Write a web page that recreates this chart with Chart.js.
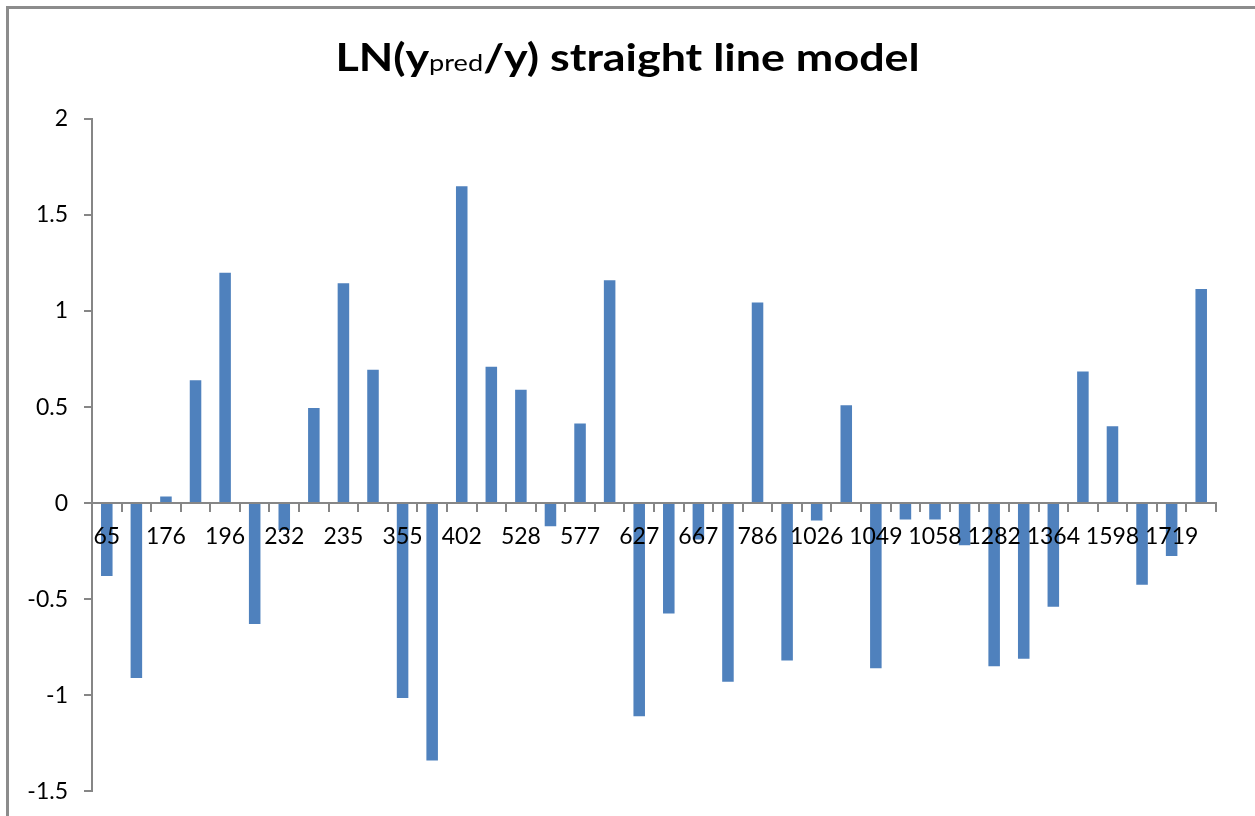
<!DOCTYPE html>
<html>
<head>
<meta charset="utf-8">
<script src="https://cdn.jsdelivr.net/npm/chart.js@4"></script>
<style>
    html, body { margin: 0; padding: 0; background: #fff; overflow: hidden; }
    #wrap { position: relative; width: 1255px; height: 816px; overflow: hidden; }
    #frame {
        position: absolute; left: 6px; top: 6px; width: 1400px; height: 1000px;
        border: 3px solid #8c8c8c; box-sizing: border-box; pointer-events: none;
    }
    #title {
        position: absolute; left: 0; width: 1255px; top: 37px; text-align: center;
        font-family: Lato, 'Open Sans', sans-serif; font-weight: bold; font-size: 38px;
        color: #000; line-height: 1; transform: scaleX(1.18); transform-origin: 627px 0;
    }
    #title sub { font-size: 23px; vertical-align: baseline; font-weight: normal; }
    canvas { position: absolute; left: 0; top: 0; }
</style>
</head>
<body>
<div id="wrap">
    <canvas id="chart" width="1255" height="821"></canvas>
    <div id="frame"></div>
    <div id="title">LN(y<sub>pred</sub>/y) straight line model</div>
</div>
<script>
// Category labels (only every other one is printed on the axis)
const categories = [
    '65', '150', '176', '190', '196', '220', '232', '234', '235', '300',
    '355', '380', '402', '450', '528', '550', '577', '600', '627', '650',
    '667', '720', '786', '900', '1026', '1040', '1049', '1055', '1058', '1200',
    '1282', '1300', '1364', '1500', '1598', '1650', '1719', '1800'
];

// LN(ypred/y) values
const lnRatio = [
    -0.38, -0.91, 0.035, 0.64, 1.20, -0.63, -0.14, 0.495, 1.145, 0.695,
    -1.015, -1.34, 1.65, 0.71, 0.59, -0.12, 0.415, 1.16, -1.11, -0.575,
    -0.19, -0.93, 1.045, -0.82, -0.09, 0.51, -0.86, -0.085, -0.085, -0.22,
    -0.85, -0.81, -0.54, 0.685, 0.40, -0.425, -0.275, 1.115
];

const yTicks = [2, 1.5, 1, 0.5, 0, -0.5, -1, -1.5];

const axisColor = '#868686';
const tickFont = { family: "Lato, 'Open Sans', sans-serif", size: 23 };

new Chart(document.getElementById('chart').getContext('2d'), {
    type: 'bar',
    data: {
        labels: categories,
        datasets: [{
            data: lnRatio,
            backgroundColor: '#4f81bd',
            borderWidth: 0,
            categoryPercentage: 1,
            barPercentage: 0.39,
        }]
    },
    options: {
        responsive: false,
        animation: false,
        layout: { padding: { top: 119, bottom: 19, right: 39, left: 0 } },
        plugins: {
            legend: { display: false },
            tooltip: { enabled: false },
            title: { display: false }
        },
        scales: {
            x: {
                position: { y: 0 },
                offset: true,
                border: { display: true, color: axisColor, width: 2 },
                grid: {
                    offset: true,
                    drawOnChartArea: false,
                    drawTicks: true,
                    tickLength: 8,
                    color: axisColor,
                    lineWidth: 2
                },
                ticks: {
                    z: 1,
                    autoSkip: false,
                    maxRotation: 0,
                    minRotation: 0,
                    padding: 12,
                    color: '#000',
                    font: tickFont,
                    callback: (val, i) => i % 2 === 0 ? categories[i] : ''
                }
            },
            y: {
                min: -1.5,
                max: 2,
                afterFit: (s) => { s.width = 92; },
                afterBuildTicks: (s) => { s.ticks = yTicks.map(v => ({ value: v })); },
                border: { display: true, color: axisColor, width: 2 },
                grid: {
                    drawOnChartArea: false,
                    drawTicks: true,
                    tickLength: 8,
                    color: axisColor,
                    lineWidth: 2
                },
                ticks: {
                    padding: 16,
                    color: '#000',
                    font: tickFont,
                    callback: (val) => String(val)
                }
            }
        }
    }
});
</script>
</body>
</html>
